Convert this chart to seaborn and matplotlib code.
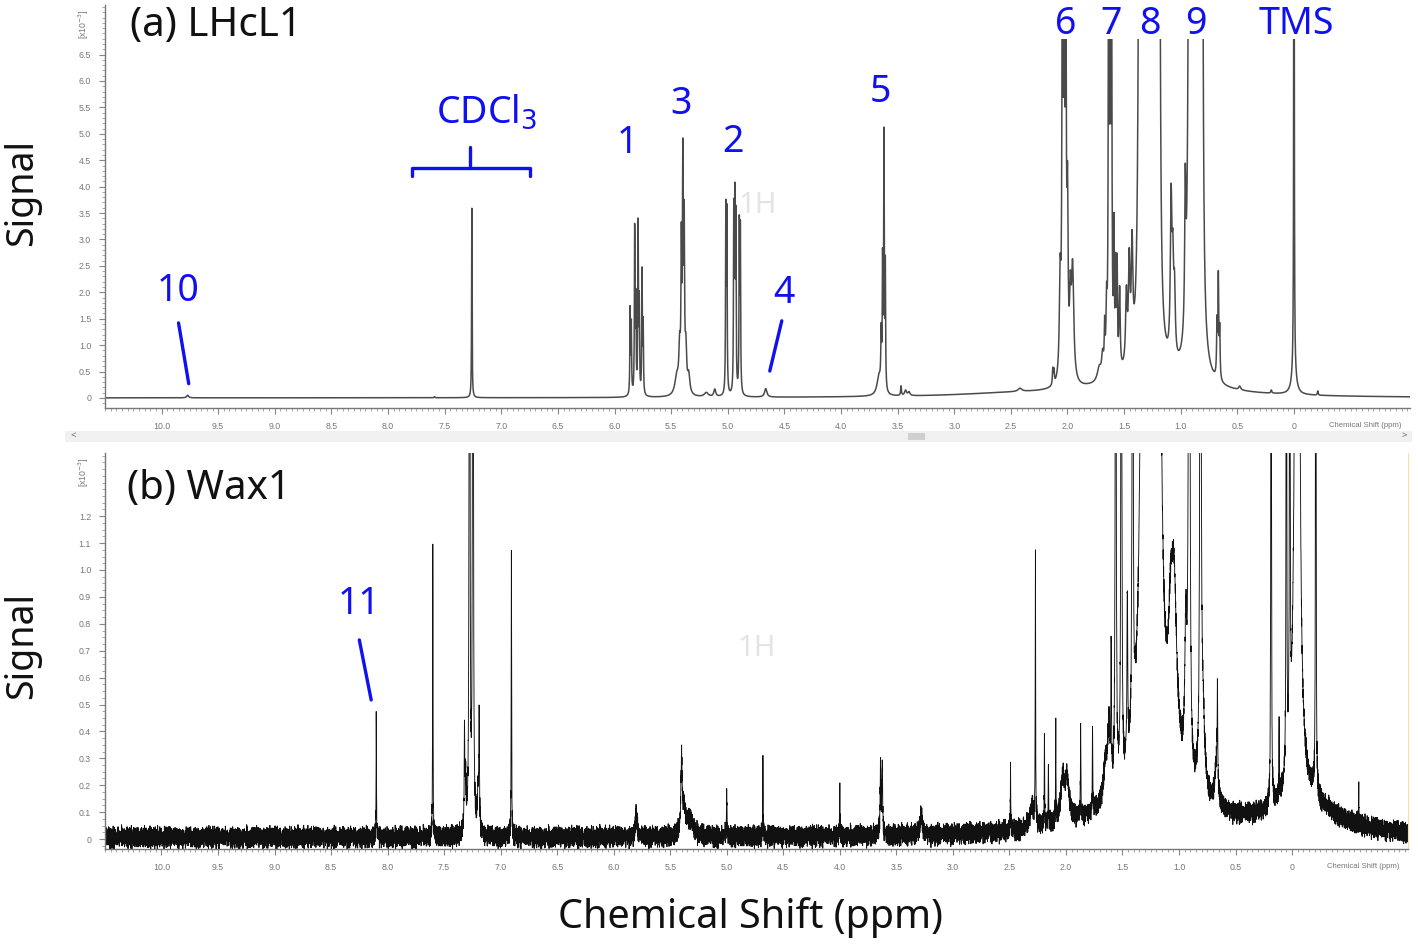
import numpy as np
import pandas as pd
import matplotlib
matplotlib.use('Agg')
import matplotlib.pyplot as plt
from matplotlib.ticker import MultipleLocator
from matplotlib.patches import Rectangle
import seaborn as sns

sns.set_style('white')
plt.rcParams['font.family'] = ['Noto Sans', 'DejaVu Sans']

# ---- peak lists (ppm, height, half width) ----
# (a) LHcL1, heights in units of 1e-3
lhcl1_ppm = [9.77, 7.59, 7.26,
             5.862, 5.852, 5.822, 5.812, 5.792, 5.782, 5.757, 5.747,
             5.45, 5.425, 5.41, 5.397, 5.385, 5.37, 5.345, 5.19, 5.115,
             5.017, 5.008, 4.947, 4.938, 4.929, 4.898, 4.889, 4.665,
             3.665, 3.645, 3.633, 3.621, 3.609, 3.47, 3.43, 3.40, 2.42,
             2.13, 2.12, 2.065, 2.045, 2.03, 2.015, 2.0, 1.975, 1.955,
             1.72, 1.69, 1.672, 1.655, 1.637, 1.624, 1.611, 1.59, 1.575, 1.562,
             1.54, 1.48, 1.455, 1.43,
             1.365, 1.345, 1.325, 1.305, 1.285, 1.265, 1.245, 1.225, 1.205, 1.188,
             1.085, 1.07, 1.055, 0.96,
             0.925, 0.905, 0.885, 0.865, 0.845, 0.825, 0.81,
             0.68, 0.668, 0.656, 0.48, 0.2, 0.0, 0.0, -0.21,
             1.3, 2.5]
lhcl1_height = [0.05, 0.02, 3.6,
                1.6, 1.3, 3.1, 1.7, 3.2, 1.7, 2.3, 1.3,
                0.35, 0.8, 2.6, 4.2, 3.0, 0.8, 0.35, 0.08, 0.14,
                3.4, 3.3, 3.3, 3.4, 3.2, 3.1, 3.0, 0.16,
                0.35, 1.0, 2.3, 4.8, 2.3, 0.18, 0.1, 0.07, 0.06,
                0.3, 0.25, 1.8, 8.0, 8.0, 7.0, 3.0, 1.3, 2.1,
                0.25, 0.4, 0.8, 1.2, 8.0, 8.0, 8.0, 2.5, 1.8, 1.9,
                1.5, 1.3, 1.8, 2.0,
                10, 10, 10, 10, 10, 10, 10, 10, 10, 8,
                2.9, 1.6, 1.2, 2.6,
                10, 10, 10, 10, 10, 10, 8,
                1.0, 1.9, 0.9, 0.07, 0.06, 0.5, 20, 0.08,
                0.25, 0.05]
lhcl1_width = [0.01, 0.004, 0.0025,
               0.003, 0.003, 0.003, 0.003, 0.003, 0.003, 0.003, 0.003,
               0.02, 0.008, 0.004, 0.004, 0.004, 0.008, 0.012, 0.02, 0.01,
               0.003, 0.003, 0.003, 0.003, 0.003, 0.003, 0.003, 0.012,
               0.02, 0.004, 0.003, 0.003, 0.003, 0.004, 0.01, 0.01, 0.02,
               0.004, 0.004, 0.008, 0.005, 0.005, 0.005, 0.006, 0.008, 0.012,
               0.02, 0.01, 0.004, 0.006, 0.004, 0.004, 0.004, 0.004, 0.004, 0.004,
               0.006, 0.008, 0.008, 0.008,
               0.01, 0.01, 0.01, 0.01, 0.01, 0.01, 0.01, 0.01, 0.01, 0.008,
               0.008, 0.008, 0.008, 0.006,
               0.01, 0.01, 0.01, 0.01, 0.01, 0.01, 0.008,
               0.004, 0.004, 0.004, 0.01, 0.005, 0.02, 0.002, 0.004,
               0.6, 0.6]

# (b) Wax1, heights in units of 1e-3
wax1_ppm = [8.10, 7.60, 7.32, 7.31, 7.275, 7.245, 7.20, 7.19, 6.905,
            5.80, 5.40, 5.38, 5.32, 5.00, 4.68, 4.00, 3.64, 3.625, 3.28,
            2.49, 2.30, 2.27, 2.19, 2.155, 2.09, 2.03, 1.99, 1.87, 1.765,
            1.65, 1.62, 1.60, 1.56, 1.51, 1.457, 1.41,
            1.31, 1.28, 1.25, 1.22, 1.19, 1.075, 1.045, 0.94, 0.91,
            0.81, 0.79, 0.67, 0.66, 0.185, 0.115, 0.05, 0.02,
            -0.045, -0.21, -0.59, -0.1, 1.2]
wax1_height = [0.45, 1.12, 0.36, 0.2, 5.0, 5.0, 0.15, 0.40, 1.10,
               0.08, 0.25, 0.1, 0.06, 0.15, 0.28, 0.22, 0.25, 0.25, 0.08,
               0.22, 0.08, 1.02, 0.33, 0.22, 0.34, 0.15, 0.15, 0.36, 0.33,
               0.15, 0.25, 0.5, 3.0, 3.0, 0.6, 3.0,
               8, 8, 8, 8, 8, 0.3, 0.65, 0.5, 5.0,
               5.0, 0.3, 0.15, 0.35, 5.0, 0.28, 5.0, 5.0,
               8.0, 5.0, 0.15, 0.12, 0.15]
wax1_width = [0.002, 0.002, 0.003, 0.005, 0.003, 0.003, 0.008, 0.003, 0.002,
              0.01, 0.006, 0.02, 0.03, 0.003, 0.002, 0.002, 0.004, 0.004, 0.01,
              0.002, 0.02, 0.002, 0.002, 0.002, 0.002, 0.02, 0.02, 0.002, 0.002,
              0.02, 0.01, 0.003, 0.004, 0.004, 0.004, 0.004,
              0.012, 0.012, 0.012, 0.012, 0.012, 0.02, 0.03, 0.01, 0.005,
              0.004, 0.02, 0.015, 0.003, 0.002, 0.002, 0.002, 0.002,
              0.012, 0.002, 0.002, 0.3, 0.5]

# baseline noise samples for the Wax1 trace
noise_a = [0.3, -0.6, 0.9, -0.2, 0.1, -0.8, 0.5, 0.7, -0.4, -0.9, 0.2, 0.6, -0.1,
           -0.7, 0.8, 0.0, -0.5, 0.4, 1.0, -0.3, -0.6, 0.3, 0.9, -0.8, 0.1, 0.5,
           -0.2, -1.0, 0.7, 0.2, -0.4, 0.6, -0.7, 0.8, -0.1, 0.4, -0.9, 0.0, 0.5,
           -0.3, 0.9, -0.6, 0.2, 0.7, -0.5, -0.2, 0.6, -0.8, 0.3, 0.1, -0.4, 0.8,
           -0.7, 0.5, -0.1, 0.2, -0.9, 0.7, 0.4, -0.3, 0.0]
noise_b = [0.5, -0.3, -0.8, 0.6, 0.2, -0.5, 0.9, -0.1, -0.6, 0.3, 0.7, -0.9, 0.1,
           0.4, -0.2, 0.8, -0.7, 0.0, 0.6, -0.4, 0.3, -1.0, 0.5, 0.2, -0.6, 0.9,
           -0.3, 0.1, -0.8, 0.7, 0.4, -0.5, 0.0, 0.8, -0.2, -0.7, 0.6, 0.3, -0.9,
           0.2, 0.5, -0.4, 0.9, -0.1, -0.6, 0.4, 0.7, -0.3, 0.1, -0.8, 0.6, -0.2, 0.3]

xticks = [10.0, 9.5, 9.0, 8.5, 8.0, 7.5, 7.0, 6.5, 6.0, 5.5, 5.0, 4.5,
          4.0, 3.5, 3.0, 2.5, 2.0, 1.5, 1.0, 0.5, 0.0]
xticklabels = ['10.0', '9.5', '9.0', '8.5', '8.0', '7.5', '7.0', '6.5', '6.0', '5.5',
               '5.0', '4.5', '4.0', '3.5', '3.0', '2.5', '2.0', '1.5', '1.0', '0.5', '0']
yticks_a = [0, 0.5, 1.0, 1.5, 2.0, 2.5, 3.0, 3.5, 4.0, 4.5, 5.0, 5.5, 6.0, 6.5]
yticks_b = [0, 0.1, 0.2, 0.3, 0.4, 0.5, 0.6, 0.7, 0.8, 0.9, 1.0, 1.1, 1.2]
top_labels = ['1', '3', '2', '5']
top_label_pos = [(5.89, 4.83), (5.415, 5.57), (4.95, 4.85), (3.65, 5.8)]
clipped_labels = ['6', '7', '8', '9', 'TMS']
clipped_label_ppm = [2.02, 1.617, 1.272, 0.866, -0.018]

ppm = np.linspace(10.52, -1.04, 14000)


def spectrum(x, centers, heights, widths):
    c = np.asarray(centers)[:, None]
    h = np.asarray(heights)[:, None]
    w = np.asarray(widths)[:, None]
    return (h / (1 + ((x[None, :] - c) / w) ** 2)).sum(axis=0)


sig_a = spectrum(ppm, lhcl1_ppm, lhcl1_height, lhcl1_width)
noise = 0.05 * (np.resize(noise_a, ppm.size) + np.resize(noise_b, ppm.size)) / 2 + 0.005
sig_b = spectrum(ppm, wax1_ppm, wax1_height, wax1_width) + noise

df_a = pd.DataFrame({'ppm': ppm, 'signal': sig_a})
df_b = pd.DataFrame({'ppm': ppm, 'signal': sig_b})

fig = plt.figure(figsize=(14.18, 9.47), dpi=100)
ax1 = fig.add_axes([0.0740, 0.5692, 0.9204, 0.4256])
ax2 = fig.add_axes([0.0740, 0.1035, 0.9189, 0.4182])

sns.lineplot(data=df_a, x='ppm', y='signal', ax=ax1, color='#4a4a4a', linewidth=1.1,
             estimator=None, sort=False)
sns.lineplot(data=df_b, x='ppm', y='signal', ax=ax2, color='#111111', linewidth=0.65,
             estimator=None, sort=False)

tick_font = dict(fontsize=6.3, color='#777777', family=['Liberation Sans', 'DejaVu Sans'])
for ax, ylim, yt, nminor in [(ax1, (-0.19, 7.44), yticks_a, 5), (ax2, (-0.037, 1.435), yticks_b, 4)]:
    ax.set_xlim(10.5, -1.025)
    ax.set_ylim(*ylim)
    ax.set_xticks(xticks)
    ax.set_xticklabels(xticklabels, **tick_font)
    ax.xaxis.set_minor_locator(MultipleLocator(0.05))
    ax.set_yticks(yt)
    ax.set_yticklabels(['0' if t == 0 else f'{t:.1f}' for t in yt], **tick_font)
    ax.yaxis.set_minor_locator(MultipleLocator((yt[1] - yt[0]) / nminor))
    ax.tick_params(which='major', direction='out', length=4, width=0.8, color='#888888', pad=6)
    ax.tick_params(which='minor', direction='out', length=2.5, width=0.6, color='#999999')
    ax.tick_params(axis='x', which='both', bottom=True)
    ax.tick_params(axis='y', which='both', left=True)
    ax.set_xlabel('')
    ax.set_ylabel('')
    for s in ['left', 'bottom']:
        ax.spines[s].set_color('#777777')
        ax.spines[s].set_linewidth(1.0)
    ax.spines['top'].set_visible(False)
    ax.text(0.966, -0.035, 'Chemical Shift (ppm)', transform=ax.transAxes, ha='center',
            va='top', fontsize=5.6, color='#777777', family=['Liberation Sans', 'DejaVu Sans'])
    ax.text(-0.016, 0.99, '[x10$^{-3}$]', transform=ax.transAxes, rotation=90,
            ha='center', va='top', **tick_font)
ax1.spines['right'].set_visible(False)
ax2.spines['right'].set_color('#f3e3a0')

blue = '#1010f0'
lab = dict(color=blue, fontsize=27, ha='center', va='center')

# panel (a)
ax1.text(0.019, 0.948, '(a) LHcL1', transform=ax1.transAxes, fontsize=29, ha='left',
         va='center', color='#111111')
ax1.text(4.74, 3.64, '1H', fontsize=21, color='#e4e4e4', ha='center', va='center')
ax1.text(9.85, 2.03, '10', **lab)
ax1.plot([9.85, 9.76], [1.42, 0.27], color=blue, lw=2.4)
ax1.text(4.505, 1.99, '4', **lab)
ax1.plot([4.523, 4.629], [1.46, 0.51], color=blue, lw=2.4)
for t, (x, y) in zip(top_labels, top_label_pos):
    ax1.text(x, y, t, **lab)
ax1.text(7.13, 5.4, 'CDCl$_3$', **lab)
ax1.plot([7.79, 7.79, 6.75, 6.75], [4.2, 4.36, 4.36, 4.2], color=blue, lw=2.4)
ax1.plot([7.28, 7.28], [4.36, 4.75], color=blue, lw=2.4)
ax1.add_patch(Rectangle((2.24, 6.8), -3.3, 1.0, facecolor='white', edgecolor='none', zorder=3))
for t, x in zip(clipped_labels, clipped_label_ppm):
    ax1.text(x, 7.08, t, zorder=4, **lab)

# panel (b)
ax2.text(0.017, 0.91, '(b) Wax1', transform=ax2.transAxes, fontsize=29, ha='left',
         va='center', color='#111111')
ax2.text(4.74, 0.71, '1H', fontsize=21, color='#e4e4e4', ha='center', va='center')
ax2.text(8.25, 0.874, '11', **lab)
ax2.plot([8.25, 8.145], [0.74, 0.517], color=blue, lw=2.4)

# scroll bar strip of the screenshot between the panels
fig.patches.append(Rectangle((65 / 1418, 1 - 442 / 947), 1347 / 1418, 11 / 947,
                             transform=fig.transFigure, facecolor='#f0f0f0',
                             edgecolor='none'))
fig.patches.append(Rectangle((908 / 1418, 1 - 440 / 947), 17 / 1418, 7 / 947,
                             transform=fig.transFigure, facecolor='#cfcfcf',
                             edgecolor='none'))
fig.text(73 / 1418, 1 - 436 / 947, '<', fontsize=7, color='#666666', ha='center', va='center')
fig.text(1404 / 1418, 1 - 436 / 947, '>', fontsize=7, color='#666666', ha='center', va='center')

fig.text(22 / 1418, 1 - 192 / 947, 'Signal', rotation=90, fontsize=27, ha='center',
         va='center', color='#111111')
fig.text(22 / 1418, 1 - 645 / 947, 'Signal', rotation=90, fontsize=27, ha='center',
         va='center', color='#111111')
fig.text(751 / 1418, 1 - 918 / 947, 'Chemical Shift (ppm)', fontsize=28.5, ha='center',
         va='center', color='#111111')

fig.savefig('out.png', dpi=100)
